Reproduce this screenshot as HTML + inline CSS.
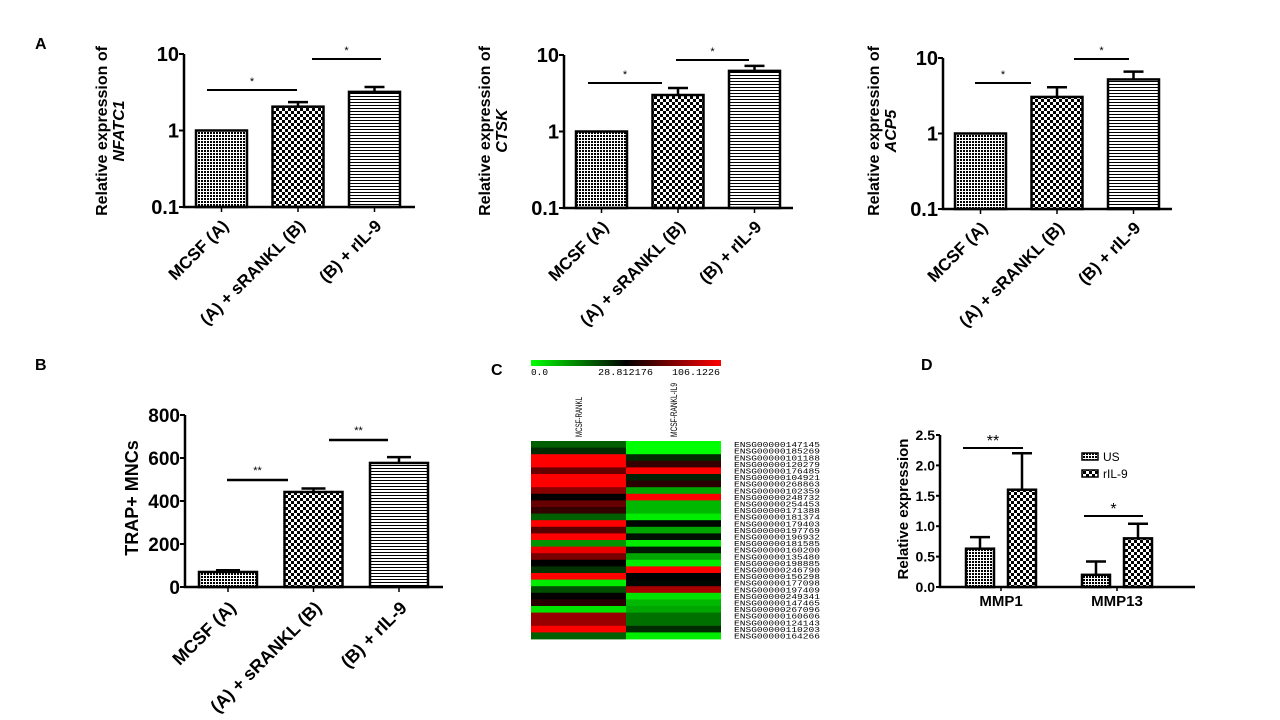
<!DOCTYPE html>
<html><head><meta charset="utf-8"><style>
html,body{margin:0;padding:0;background:#fff;}
svg{display:block;font-family:"Liberation Sans",Arial,sans-serif;}
.mono{font-family:"Liberation Mono","DejaVu Sans Mono",monospace;}
</style></head><body>
<svg id="fig" width="1280" height="720" viewBox="0 0 1280 720" xmlns="http://www.w3.org/2000/svg">
<defs>
<pattern id="pDot" width="3" height="3" patternUnits="userSpaceOnUse"><rect width="3" height="3" fill="#fff"/><rect width="2" height="2" fill="#000"/></pattern>
<pattern id="pChk" width="6" height="6" patternUnits="userSpaceOnUse"><rect width="6" height="6" fill="#fff"/><rect width="3" height="3" fill="#000"/><rect x="3" y="3" width="3" height="3" fill="#000"/></pattern>
<pattern id="pHor" width="4" height="3" patternUnits="userSpaceOnUse"><rect width="4" height="3" fill="#fff"/><rect width="4" height="1" fill="#000"/></pattern>
<linearGradient id="cbar" x1="0" x2="1" y1="0" y2="0"><stop offset="0" stop-color="#00ff00"/><stop offset="0.5" stop-color="#000"/><stop offset="1" stop-color="#ff0000"/></linearGradient>
</defs>
<g font-weight="bold" font-size="16">
<text x="35" y="49">A</text>
<text x="35" y="370">B</text>
<text x="491" y="375">C</text>
<text x="921" y="370">D</text>
</g>
<g id="root"></g>
</svg>
<script>
// ---- Panel A data ----
const groupsA = ["MCSF (A)", "(A) + sRANKL (B)", "(B) + rIL-9"];
const nfatc1Vals = [1.0, 2.05, 3.2];
const nfatc1Errs = [1.0, 2.35, 3.7];
const ctskVals = [1.0, 3.0, 6.2];
const ctskErrs = [1.0, 3.7, 7.2];
const acp5Vals = [1.0, 3.05, 5.2];
const acp5Errs = [1.0, 4.1, 6.6];
const logTicks = [0.1, 1, 10];
const logTickLabels = ["0.1", "1", "10"];
// ---- Panel B data ----
const trapVals = [70, 442, 577];
const trapErrs = [78, 458, 604];
const trapTicks = [0, 200, 400, 600, 800];
// ---- Panel D data ----
const mmpCats = ["MMP1", "MMP13"];
const usVals = [0.63, 0.2];
const usErrs = [0.82, 0.42];
const il9Vals = [1.6, 0.8];
const il9Errs = [2.2, 1.04];
const mmpTicks = [0, 0.5, 1.0, 1.5, 2.0, 2.5];
const mmpTickLabels = ["0.0", "0.5", "1.0", "1.5", "2.0", "2.5"];
// ---- Panel C data ----
const geneIds = ["ENSG00000147145","ENSG00000185269","ENSG00000101188","ENSG00000120279","ENSG00000176485","ENSG00000104921","ENSG00000268863","ENSG00000102359","ENSG00000248732","ENSG00000254453","ENSG00000171388","ENSG00000181374","ENSG00000179403","ENSG00000197769","ENSG00000196932","ENSG00000181585","ENSG00000160200","ENSG00000135480","ENSG00000198885","ENSG00000246790","ENSG00000156298","ENSG00000177098","ENSG00000197409","ENSG00000249341","ENSG00000147465","ENSG00000267096","ENSG00000160606","ENSG00000124143","ENSG00000110203","ENSG00000164266"];
const rankl = [18,24,106,106,60,106,106,70,29,60,45,18,106,55,106,12,100,65,29,23,106,2,20,30,42,3,75,75,106,18];
const ranklIl9 = [0,0,24,45,106,25,42,10,106,8,8,2,28,10,27,2,26,10,2,106,29,28,80,3,8,10,16,16,24,2];
const heatScale = [0.0, 28.812176, 106.1226];

const NS = "http://www.w3.org/2000/svg";
const root = document.getElementById("root");
function mk(tag, attrs, parent) {
  const e = document.createElementNS(NS, tag);
  for (const k in attrs) e.setAttribute(k, attrs[k]);
  (parent || root).appendChild(e);
  return e;
}
const pats = ["url(#pDot)", "url(#pChk)", "url(#pHor)"];

function logPanel(ox, axisX, top, bottom, axisEnd, vals, errs, gene, sig, key) {
  const yS = v => bottom - (Math.log10(v) + 1) / 2 * (bottom - top);
  const bw = 51, step = 76.5, first = axisX + 12;
  const g = mk("g", {});
  
  
  vals.forEach((v, i) => {
    const x = first + i * step;
    const cx = x + bw / 2;
    const e = errs[i];
    if (e > v) {
      const el = mk("path", {d: `M${cx},${yS(v)}V${yS(e)}M${cx - 10},${yS(e)}H${cx + 10}`, stroke: "#000", "stroke-width": 2.5, fill: "none"}, g);
      
      
    }
    const r = mk("rect", {x: x, y: yS(v), width: bw, height: bottom - yS(v), fill: pats[i], stroke: "#000", "stroke-width": 2.5}, g);
    
    
    mk("line", {x1: cx, x2: cx, y1: bottom, y2: bottom + 5, stroke: "#000", "stroke-width": 1.5}, g);
    const t = mk("text", {transform: `translate(${cx + 8},${bottom + 20}) rotate(-45)`, "text-anchor": "end", "font-size": 17, "font-weight": "bold"}, g);
    t.textContent = groupsA[i];
    
    
  });
  const ax = mk("path", {d: `M${axisX},${top}V${bottom}H${axisEnd}`, stroke: "#000", "stroke-width": 2.5, fill: "none"}, g);
  
  
  logTicks.forEach((t, i) => {
    mk("line", {x1: axisX - 5, x2: axisX, y1: yS(t), y2: yS(t), stroke: "#000", "stroke-width": 2}, g);
    const tl = mk("text", {x: axisX - 5, y: yS(t) + 7, "text-anchor": "end", "font-size": 20, "font-weight": "bold"}, g);
    tl.textContent = logTickLabels[i];
    
    
  });
  const tt = mk("text", {transform: `translate(${ox + 17},131) rotate(-90)`, "text-anchor": "middle", "font-size": 16, "font-weight": "bold"}, g);
  tt.textContent = "Relative expression of";
  
  
  const t2 = mk("text", {transform: `translate(${ox + 34},131) rotate(-90)`, "text-anchor": "middle", "font-size": 16, "font-weight": "bold", "font-style": "italic"}, g);
  t2.textContent = gene;
  
  
  sig.forEach(s => {
    const l = mk("line", {x1: s[0], x2: s[1], y1: s[2], y2: s[2], stroke: "#000", "stroke-width": 2}, g);
    
    
    const st = mk("text", {x: (s[0] + s[1]) / 2, y: s[2] - 5, "text-anchor": "middle", "font-size": 11}, g);
    st.textContent = "*";
    
    
  });
}
logPanel(90, 184, 54, 207, 415, nfatc1Vals, nfatc1Errs, "NFATC1", [[207, 297, 90], [312, 381, 59]], "nfatc1");
logPanel(473, 564, 55, 208, 793, ctskVals, ctskErrs, "CTSK", [[588, 662, 83], [676, 749, 60]], "ctsk");
logPanel(862, 943, 58, 209, 1172, acp5Vals, acp5Errs, "ACP5", [[975, 1031, 83], [1074, 1129, 59]], "acp5");

// ---- Panel B ----
(function () {
  const axisX = 185, top = 415, bottom = 587, axisEnd = 443;
  const yS = v => bottom - v / 800 * (bottom - top);
  const bw = 58, step = 85.5, first = 199;
  const g = mk("g", {});
  
  
  trapVals.forEach((v, i) => {
    const x = first + i * step, cx = x + bw / 2, e = trapErrs[i];
    const eb = mk("path", {d: `M${cx},${yS(v)}V${yS(e)}M${cx - 12},${yS(e)}H${cx + 12}`, stroke: "#000", "stroke-width": 2.5, fill: "none"}, g);
    
    
    const r = mk("rect", {x: x, y: yS(v), width: bw, height: bottom - yS(v), fill: pats[i], stroke: "#000", "stroke-width": 2.5}, g);
    
    
    mk("line", {x1: cx, x2: cx, y1: bottom, y2: bottom + 5, stroke: "#000", "stroke-width": 1.5}, g);
    const t = mk("text", {transform: `translate(${cx + 9},${bottom + 22}) rotate(-45)`, "text-anchor": "end", "font-size": 18, "font-weight": "bold"}, g);
    t.textContent = groupsA[i];
    
    
  });
  const ax = mk("path", {d: `M${axisX},${top}V${bottom}H${axisEnd}`, stroke: "#000", "stroke-width": 2.5, fill: "none"}, g);
  
  
  trapTicks.forEach(t => {
    mk("line", {x1: axisX - 5, x2: axisX, y1: yS(t), y2: yS(t), stroke: "#000", "stroke-width": 2}, g);
    const tl = mk("text", {x: axisX - 5, y: yS(t) + 7, "text-anchor": "end", "font-size": 19, "font-weight": "bold"}, g);
    tl.textContent = String(t);
    
    
  });
  const tt = mk("text", {transform: `translate(138,498) rotate(-90)`, "text-anchor": "middle", "font-size": 18, "font-weight": "bold"}, g);
  tt.textContent = "TRAP+ MNCs";
  
  
  [[227, 288, 480], [329, 388, 440]].forEach(s => {
    const l = mk("line", {x1: s[0], x2: s[1], y1: s[2], y2: s[2], stroke: "#000", "stroke-width": 2.5}, g);
    
    
    const st = mk("text", {x: (s[0] + s[1]) / 2, y: s[2] - 6, "text-anchor": "middle", "font-size": 11}, g);
    st.textContent = "**";
    
    
  });
})();

// ---- Panel C heatmap ----
(function () {
  const g = mk("g", {});
  
  
  const x0 = 531, xm = 626, x1 = 721, top = 441, bottom = 639;
  const rh = (bottom - top) / geneIds.length;
  function col(v) {
    if (v <= heatScale[1]) { const gg = Math.round(255 * (1 - v / heatScale[1])); return `rgb(0,${gg},0)`; }
    const r = Math.round(255 * (v - heatScale[1]) / (heatScale[2] - heatScale[1])); return `rgb(${r},0,0)`;
  }
  const cb = mk("rect", {x: x0, y: 360, width: x1 - x0, height: 6, fill: "url(#cbar)"}, g);
  
  
  [[x0, "start", 0, 17], [598, "start", 1, 55], [672, "start", 2, 48]].forEach(a => {
    const t = mk("text", {x: a[0], y: 375, "text-anchor": a[1], "font-size": 9, class: "mono", textLength: a[3], lengthAdjust: "spacingAndGlyphs"}, g);
    t.textContent = a[2] === 0 ? "0.0" : String(heatScale[a[2]]);
    
    
  });
  [["MCSF-RANKL", 582, 40], ["MCSF-RANKL-IL9", 677, 54]].forEach(c => {
    const t = mk("text", {transform: `translate(${c[1]},437) rotate(-90)`, "font-size": 9, textLength: c[2], lengthAdjust: "spacingAndGlyphs"}, g);
    t.textContent = c[0];
    
    
  });
  geneIds.forEach((id, i) => {
    const y = top + i * rh;
    const a = mk("rect", {x: x0, y: y, width: xm - x0, height: rh + 0.4, fill: col(rankl[i])}, g);
    
    
    const b = mk("rect", {x: xm, y: y, width: x1 - xm, height: rh + 0.4, fill: col(ranklIl9[i])}, g);
    
    
    const t = mk("text", {x: 734, y: y + rh - 0.5, "font-size": 7.5, class: "mono", textLength: 86, lengthAdjust: "spacingAndGlyphs"}, g);
    t.textContent = id;
    
    
  });
})();

// ---- Panel D ----
(function () {
  const axisX = 940, top = 435, bottom = 587, axisEnd = 1195;
  const yS = v => bottom - v / 2.5 * (bottom - top);
  const g = mk("g", {});
  
  
  const series = [[usVals, usErrs, "url(#pDot)", 966], [il9Vals, il9Errs, "url(#pChk)", 1008]];
  const gStep = 116, bw = 28;
  series.forEach((s, si) => {
    s[0].forEach((v, i) => {
      const x = s[3] + i * gStep, cx = x + bw / 2, e = s[1][i];
      const eb = mk("path", {d: `M${cx},${yS(v)}V${yS(e)}M${cx - 10},${yS(e)}H${cx + 10}`, stroke: "#000", "stroke-width": 2.5, fill: "none"}, g);
      
      
      const r = mk("rect", {x: x, y: yS(v), width: bw, height: bottom - yS(v), fill: s[2], stroke: "#000", "stroke-width": 2.5}, g);
      
      
    });
  });
  mmpCats.forEach((c, i) => {
    const cx = 1001 + i * gStep;
    mk("line", {x1: cx, x2: cx, y1: bottom, y2: bottom + 4, stroke: "#000", "stroke-width": 1.5}, g);
    const t = mk("text", {x: cx, y: 606, "text-anchor": "middle", "font-size": 15, "font-weight": "bold"}, g);
    t.textContent = c;
    
    
  });
  const ax = mk("path", {d: `M${axisX},${top}V${bottom}H${axisEnd}`, stroke: "#000", "stroke-width": 2.5, fill: "none"}, g);
  
  
  mmpTicks.forEach((t, i) => {
    mk("line", {x1: axisX - 4, x2: axisX, y1: yS(t), y2: yS(t), stroke: "#000", "stroke-width": 2}, g);
    const tl = mk("text", {x: axisX - 5, y: yS(t) + 5, "text-anchor": "end", "font-size": 14, "font-weight": "bold"}, g);
    tl.textContent = mmpTickLabels[i];
    
    
  });
  const tt = mk("text", {transform: `translate(908,509) rotate(-90)`, "text-anchor": "middle", "font-size": 15, "font-weight": "bold"}, g);
  tt.textContent = "Relative expression";
  
  
  [[963, 1023, 448, "**"], [1084, 1143, 516, "*"]].forEach(s => {
    const l = mk("line", {x1: s[0], x2: s[1], y1: s[2], y2: s[2], stroke: "#000", "stroke-width": 2}, g);
    
    
    const st = mk("text", {x: (s[0] + s[1]) / 2, y: s[2] - 2, "text-anchor": "middle", "font-size": 16}, g);
    st.textContent = s[3];
    
    
  });
  [["US", "url(#pDot)", 453], ["rIL-9", "url(#pChk)", 470]].forEach(l => {
    const sw = mk("rect", {x: 1082, y: l[2], width: 16, height: 7, fill: l[1], stroke: "#000", "stroke-width": 1.5}, g);
    
    
    const t = mk("text", {x: 1103, y: l[2] + 8, "font-size": 12}, g);
    t.textContent = l[0];
    
    
  });
})();
</script>
</body></html>
